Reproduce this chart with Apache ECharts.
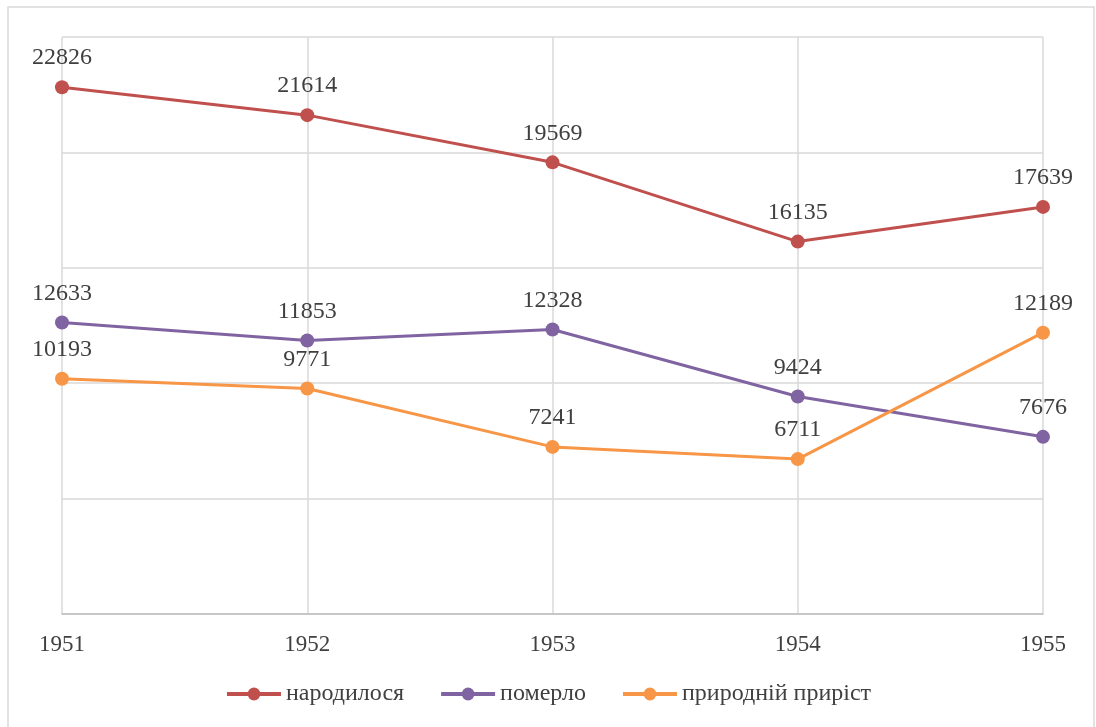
<!DOCTYPE html>
<html>
<head>
<meta charset="utf-8">
<script src="https://cdn.jsdelivr.net/npm/echarts@6/dist/echarts.min.js"></script>
<style>
  html,body{margin:0;padding:0;background:#fff;}
  #chart{width:1096px;height:727px;}
</style>
</head>
<body>
<div id="chart"></div>
<script>
// роки
var years = ['1951', '1952', '1953', '1954', '1955'];
// народилося
var born = [22826, 21614, 19569, 16135, 17639];
// померло
var died = [12633, 11853, 12328, 9424, 7676];
// природній приріст
var growth = [10193, 9771, 7241, 6711, 12189];

(function(){
    var myChart = echarts.init(document.getElementById('chart'));
    var font = '"Liberation Serif", "Times New Roman", serif';

    function line(name, data, color){
        return {
            name: name,
            type: 'line',
            data: data,
            symbol: 'circle',
            symbolSize: 14,
            lineStyle: {color: color, width: 3},
            itemStyle: {color: color},
            label: {
                show: true,
                position: 'top',
                distance: 10,
                color: '#404040',
                fontSize: 24,
                fontFamily: font
            }
        };
    }

    var option = {
        animation: false,
        // зовнішня рамка
        graphic: [{
            type: 'rect',
            shape: {x: 8, y: 7, width: 1086, height: 740},
            style: {fill: 'none', stroke: '#d9d9d9', lineWidth: 1.5},
            silent: true
        }],
        grid: {top: 37, bottom: 113, left: 62, right: 53},
        legend: {
            top: 677,
            left: 'center',
            itemWidth: 54,
            itemHeight: 16,
            itemGap: 35,
            lineStyle: {width: 4},
            textStyle: {color: '#404040', fontSize: 24, fontFamily: font},
            data: ['народилося', 'померло', 'природній приріст']
        },
        xAxis: {
            type: 'category',
            boundaryGap: false,
            data: years,
            axisTick: {show: false},
            axisLine: {lineStyle: {color: '#bfbfbf', width: 1.5}},
            axisLabel: {color: '#404040', fontSize: 23, fontFamily: font, margin: 19},
            splitLine: {show: true, lineStyle: {color: '#d9d9d9', width: 1.5}}
        },
        yAxis: {
            type: 'value',
            min: 0,
            max: 25000,
            interval: 5000,
            axisLabel: {show: false},
            axisLine: {show: false},
            axisTick: {show: false},
            splitLine: {lineStyle: {color: '#d9d9d9', width: 1.5}}
        },
        series: [
            line('народилося', born, '#c0504d'),
            line('померло', died, '#8064a2'),
            line('природній приріст', growth, '#f79646')
        ]
    };
    myChart.setOption(option);
})();
</script>
</body>
</html>
